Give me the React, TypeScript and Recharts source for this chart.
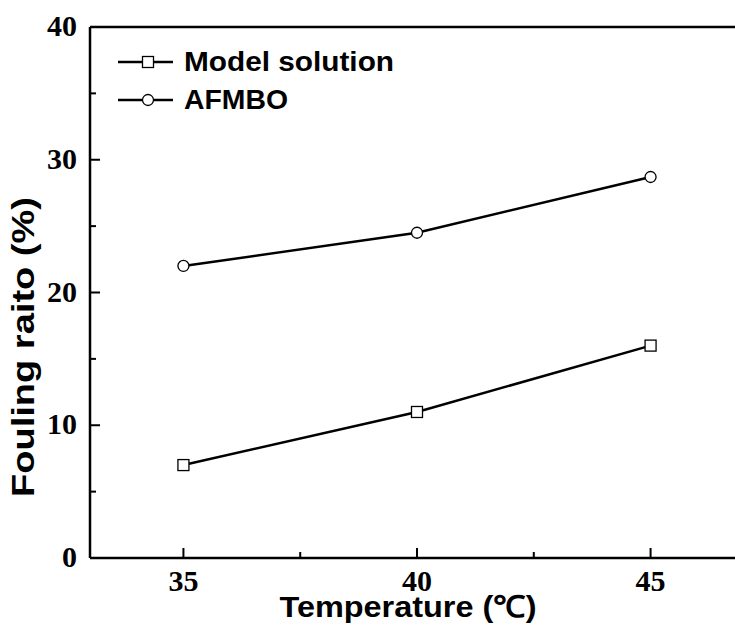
import React from 'react';
import { LineChart, Line, XAxis, YAxis, ReferenceLine, Legend, Label } from 'recharts';

// values
const temperatures = [35, 40, 45];
const modelSolution = [7, 11, 16];
const afmbo = [22, 24.5, 28.7];
const xTicks = [35, 37.5, 40, 42.5, 45];
const yTicks = [0, 5, 10, 15, 20, 25, 30, 35, 40];
const seriesNames = ['Model solution', 'AFMBO'];

const data = temperatures.map((t, i) => ({ t, model: modelSolution[i], afmbo: afmbo[i] }));

const serif = '"Liberation Serif", "Times New Roman", serif';
const sans = '"Liberation Sans", Arial, sans-serif';

const XTick = (props: any) => {
  const { x, y, payload } = props;
  const major = payload.value % 5 === 0;
  return (
    <g>
      <line x1={x} x2={x} y1={y} y2={y - (major ? 10 : 6)} stroke="#000" strokeWidth={2} />
      {major && (
        <text x={x} y={y + 33} textAnchor="middle" fontFamily={serif} fontWeight="bold" fontSize={30} fill="#000">
          {payload.value}
        </text>
      )}
    </g>
  );
};

const YTick = (props: any) => {
  const { x, y, payload } = props;
  const major = payload.value % 10 === 0;
  return (
    <g>
      <line x1={x} x2={x + (major ? 10 : 6)} y1={y} y2={y} stroke="#000" strokeWidth={2} />
      {major && (
        <text x={x - 13} y={y + 9} textAnchor="end" fontFamily={serif} fontWeight="bold" fontSize={30} fill="#000">
          {payload.value}
        </text>
      )}
    </g>
  );
};

const SquareDot = (props: any) => {
  const { cx, cy } = props;
  return <rect x={cx - 5.5} y={cy - 5.5} width={11} height={11} fill="#fff" stroke="#000" strokeWidth={1.3} />;
};

const CircleDot = (props: any) => {
  const { cx, cy } = props;
  return <circle cx={cx} cy={cy} r={5.5} fill="#fff" stroke="#000" strokeWidth={1.3} />;
};

const LegendBox = () => (
  <svg width={320} height={90}>
    <line x1={18} x2={73} y1={22} y2={22} stroke="#000" strokeWidth={2.5} />
    <rect x={42.5} y={16.5} width={11} height={11} fill="#fff" stroke="#000" strokeWidth={1.3} />
    <text x={84} y={31} fontFamily={sans} fontWeight="bold" fontSize={28} textLength={210} lengthAdjust="spacingAndGlyphs">
      {seriesNames[0]}
    </text>
    <line x1={18} x2={73} y1={60} y2={60} stroke="#000" strokeWidth={2.5} />
    <circle cx={48} cy={60} r={5.5} fill="#fff" stroke="#000" strokeWidth={1.3} />
    <text x={84} y={69} fontFamily={sans} fontWeight="bold" fontSize={28} textLength={104} lengthAdjust="spacingAndGlyphs">
      {seriesNames[1]}
    </text>
  </svg>
);

export default function App() {
  return (
    <div style={{ position: 'absolute', left: 0, top: 0, width: 735, height: 626, overflow: 'hidden', background: '#fff' }}>
      <LineChart width={760} height={626} data={data} margin={{ top: 27, right: 16, bottom: 0, left: 0 }}>
        <XAxis
          dataKey="t"
          type="number"
          domain={[33, 47]}
          ticks={xTicks}
          interval={0}
          allowDataOverflow
          height={68}
          tickSize={0}
          tickMargin={0}
          tickLine={false}
          axisLine={{ stroke: '#000', strokeWidth: 2.5 }}
          tick={(p: any) => <XTick {...p} />}
        >
          <Label
            content={() => (
              <text x={408} y={617} textAnchor="middle" fontFamily={sans} fontWeight="bold" fontSize={30} textLength={257} lengthAdjust="spacingAndGlyphs">
                Temperature (℃)
              </text>
            )}
          />
        </XAxis>
        <YAxis
          type="number"
          domain={[0, 40]}
          ticks={yTicks}
          interval={0}
          width={90}
          tickSize={0}
          tickMargin={0}
          tickLine={false}
          axisLine={{ stroke: '#000', strokeWidth: 2.5 }}
          tick={(p: any) => <YTick {...p} />}
        >
          <Label
            content={() => (
              <text
                x={0}
                y={0}
                transform="translate(34, 347) rotate(-90)"
                textAnchor="middle"
                fontFamily={sans}
                fontWeight="bold"
                fontSize={31}
                textLength={300}
                lengthAdjust="spacingAndGlyphs"
              >
                Fouling raito (%)
              </text>
            )}
          />
        </YAxis>
        <ReferenceLine y={40} stroke="#000" strokeWidth={2.5} />
        <Legend
          layout="vertical"
          align="center"
          verticalAlign="middle"
          wrapperStyle={{ position: 'absolute', left: 100, top: 40, width: 320, height: 90 }}
          content={() => <LegendBox />}
        />
        <Line dataKey="model" name={seriesNames[0]} stroke="#000" strokeWidth={2.5} dot={(p: any) => <SquareDot key={p.index} {...p} />} isAnimationActive={false} />
        <Line dataKey="afmbo" name={seriesNames[1]} stroke="#000" strokeWidth={2.5} dot={(p: any) => <CircleDot key={p.index} {...p} />} isAnimationActive={false} />
      </LineChart>
    </div>
  );
}
